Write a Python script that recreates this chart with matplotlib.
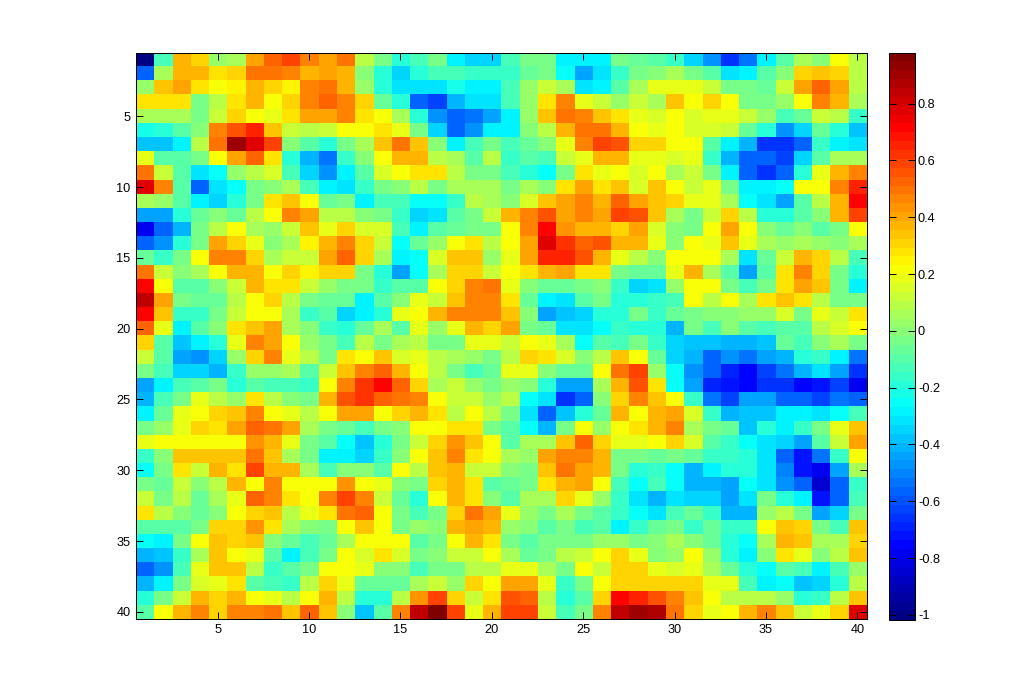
import matplotlib
matplotlib.use("Agg")
import numpy as np
import matplotlib.pyplot as plt
from matplotlib.colors import LinearSegmentedColormap

row01 = [-1.0,-.12,.38,.3,.04,.07,.41,.54,.6,.45,.41,.51,.1,-.02,-.2,-.12,-.05,-.27,-.36,-.36, -.14,-.05,-.02,-.27,-.27,-.27,-.05,-.08,-.11,-.17,-.34,-.48,-.66,-.52,-.27,-.11,.07,.01,.23,.1]
row02 = [-.55,.07,.38,.38,.29,.3,.51,.51,.48,.38,.41,.36,0,-.2,-.34,-.2,-.14,-.14,-.17,-.17, -.17,-.08,-.02,-.24,-.45,-.33,-.17,-.02,.01,.07,-.02,-.11,-.32,-.27,-.11,.01,.3,.35,.3,.1]
row03 = [.04,.35,.4,.27,.2,.25,.38,.32,.25,.48,.51,.38,.04,-.2,-.3,-.32,-.3,-.23,-.29,-.29, -.14,.04,.13,.06,-.3,-.27,-.11,.06,.17,.17,.17,.13,-.05,-.02,-.08,.13,.4,.54,.41,.1]
row04 = [.27,.27,.27,-.02,.1,.27,.36,.23,.3,.48,.54,.48,.3,-.08,-.2,-.55,-.62,-.4,-.33,-.33, -.14,.04,.29,.45,.17,.13,.04,.13,.07,.33,.23,.3,.2,-.02,-.02,.04,.23,.48,.38,.07]
row05 = [.07,.07,.05,-.05,.12,.32,.23,.17,.27,.41,.4,.45,.27,.2,.06,-.2,-.48,-.58,-.52,-.43, -.29,.04,.35,.51,.48,.35,.29,.18,.15,.2,.15,.17,.17,.13,.04,-.14,-.08,.12,.09,-.17]
row06 = [-.22,-.2,-.11,.01,.45,.56,.65,.33,.13,.1,.13,.2,.23,.29,.18,-.05,-.36,-.55,-.48,-.27, -.27,.01,.1,.38,.51,.51,.38,.23,.18,.23,.15,.15,.13,-.08,-.2,-.48,-.34,-.08,-.2,-.38]
row07 = [-.38,-.38,-.27,.1,.51,.9,.77,.59,.01,-.11,-.2,-.05,.07,.33,.51,.33,.01,-.27,-.14,-.02, -.14,-.08,.01,.17,.45,.58,.56,.3,.3,.23,.2,-.11,-.27,-.4,-.66,-.66,-.55,-.17,-.29,-.32]
row08 = [.17,-.11,-.11,-.05,.23,.41,.54,.29,-.2,-.4,-.52,-.17,.01,.23,.36,.36,.1,.07,-.11,.09, -.17,-.11,-.14,.12,.18,.38,.38,.17,.17,.15,.18,-.17,-.42,-.55,-.58,-.62,-.34,-.11,.07,.06]
row09 = [.51,.13,-.11,-.32,-.24,.04,.09,.15,-.14,-.36,-.48,-.27,-.11,.15,.23,.27,.27,.1,-.02,-.05, -.14,-.2,-.24,-.02,.29,.18,.23,.15,.2,.06,.13,-.02,-.27,-.58,-.66,-.55,-.2,.17,.38,.46]
row10 = [.77,.45,-.11,-.58,-.33,-.24,-.05,.01,.06,-.14,-.27,-.32,-.17,-.05,.01,.09,-.05,.07,.07,.07, -.05,.06,.01,.29,.4,.27,.33,.15,.33,.2,.12,.17,-.05,-.27,-.27,-.24,.2,.23,.48,.66]
row11 = [.07,.04,-.11,-.27,-.36,-.2,-.05,.29,.33,.2,-.08,-.05,-.27,-.14,-.14,-.24,-.24,-.17,.09,.06, .01,.15,.33,.41,.46,.36,.54,.4,.35,.3,.18,.18,.07,-.24,-.33,-.43,-.11,.1,.38,.7]
row12 = [-.45,-.43,-.2,-.08,.01,-.08,.1,.23,.45,.41,.1,.1,.01,-.05,-.17,-.36,-.33,-.11,-.05,.13, .36,.46,.56,.41,.48,.4,.59,.56,.33,.06,-.02,.13,.3,.1,-.2,-.2,-.11,.01,.36,.59]
row13 = [-.77,-.58,-.42,-.05,.1,.2,.07,.04,.13,.33,.17,.32,.15,.15,-.14,-.27,-.11,-.08,-.02,-.02, .23,.46,.73,.43,.36,.36,.3,.41,.15,.01,-.02,.2,.41,.2,.01,-.08,.01,-.11,-.02,.23]
row14 = [-.55,-.48,-.2,-.02,.41,.3,.17,.01,.06,.25,.36,.48,.3,.13,-.24,-.08,.04,.23,.27,.1, .2,.41,.79,.62,.52,.56,.38,.38,.18,.01,.2,.18,.35,.18,.07,.04,.07,.04,.01,.07]
row15 = [-.08,-.17,-.02,.2,.46,.46,.3,.06,.13,.13,.4,.54,.32,.06,-.27,-.24,.15,.33,.33,.04, .18,.41,.66,.66,.56,.36,.18,.1,.01,.2,.23,.2,.06,-.3,-.08,.13,.36,.3,.1,-.14]
row16 = [.51,.13,.01,.06,.23,.36,.38,.23,.3,.25,.3,.3,-.05,-.2,-.43,-.24,.07,.32,.3,.13, .23,.29,.36,.41,.29,.29,-.05,-.08,-.08,.17,.36,.06,-.11,-.45,-.11,.27,.48,.32,-.05,-.2]
row17 = [.7,.23,-.11,-.11,.01,.13,.36,.29,.29,.13,.04,-.02,-.05,-.17,-.11,-.11,.2,.3,.48,.51, .17,.01,-.08,-.08,-.05,.01,-.17,-.36,-.33,.04,.2,.23,-.05,-.14,-.02,.27,.41,.35,-.02,-.27]
row18 = [.83,.41,-.02,-.08,-.08,.1,.2,.32,.1,-.02,-.08,-.08,-.27,-.11,.01,.17,.13,.33,.48,.48, .27,-.08,-.27,-.33,-.11,-.05,-.2,-.2,-.17,-.14,.2,.1,.2,.07,.29,.35,.29,.1,-.02,-.05]
row19 = [.7,.33,-.17,-.17,-.05,.13,.2,.23,.07,-.17,-.11,-.34,-.27,-.2,.18,.2,.36,.45,.48,.48, .35,.01,-.45,-.38,-.36,-.2,-.2,-.05,-.17,-.08,-.02,.01,.01,.04,.04,.15,-.02,.18,.13,.29]
row20 = [.54,.17,-.27,-.11,.01,.29,.33,.41,.07,.01,-.17,-.2,-.08,.06,-.11,.17,.04,.17,.36,.32, .4,-.02,-.08,-.3,-.3,-.24,-.17,-.2,-.2,-.42,-.05,-.14,.01,-.11,-.14,-.11,-.11,.1,.15,.2]
row21 = [.32,-.11,-.38,-.27,-.2,.17,.46,.41,.2,.04,-.02,-.14,.1,-.02,.07,.1,-.02,-.02,.17,.17, .13,.23,.17,.07,-.24,-.11,-.14,-.05,-.17,-.34,-.38,-.38,-.42,-.42,-.38,-.08,-.14,.01,.06,-.05]
row22 = [.12,-.11,-.43,-.48,-.36,.04,.32,.45,.18,.1,-.02,.27,.2,.33,.15,.17,.09,.06,.04,-.05, .1,.3,.27,.15,.01,.1,.33,.2,-.08,-.36,-.4,-.58,-.47,-.52,-.45,-.4,-.2,-.17,-.27,-.52]
row23 = [-.02,-.14,-.36,-.36,-.4,-.17,.04,.04,.07,-.11,.13,.35,.48,.54,.38,.23,.1,-.05,-.14,-.08, .17,.17,.01,-.08,-.08,.2,.51,.58,.04,-.24,-.48,-.58,-.68,-.74,-.62,-.52,-.4,-.32,-.43,-.66]
row24 = [-.43,-.27,-.14,-.11,-.05,-.2,-.11,-.14,-.14,-.17,.2,.45,.63,.7,.52,.3,.07,.13,.04,-.05, .04,.01,-.2,-.43,-.43,.06,.36,.56,.29,-.24,-.45,-.68,-.71,-.74,-.66,-.66,-.74,-.71,-.62,-.77]
row25 = [-.4,-.14,-.02,.18,.1,.04,.29,.1,.01,-.02,.36,.56,.63,.52,.51,.46,.23,.13,.13,.04, .1,-.24,-.33,-.66,-.58,.01,.3,.45,.35,.2,-.17,-.52,-.62,-.45,-.45,-.58,-.58,-.62,-.52,-.55]
row26 = [-.27,-.08,.18,.23,.32,.35,.48,.23,.18,.1,.2,.4,.4,.23,.3,.36,.29,.1,.2,.1, -.05,-.3,-.55,-.38,-.2,-.08,.36,.23,.38,.41,.15,-.17,-.42,-.38,-.38,-.29,-.27,-.33,-.24,-.14]
row27 = [-.02,.04,.17,.3,.29,.41,.52,.5,.41,.07,-.05,-.08,-.14,-.02,.01,.23,.2,.29,.29,-.02, -.11,-.24,-.4,-.02,.23,.04,.23,.29,.38,.48,.07,-.05,-.08,-.38,-.2,-.29,-.17,-.05,.18,.35]
row28 = [.18,.23,.23,.2,.23,.2,.43,.36,.17,-.05,-.11,-.24,-.38,-.2,-.02,.13,.32,.43,.33,.2, -.11,.07,.07,.35,.54,.32,.18,.18,.23,.3,.15,-.11,-.17,-.24,-.3,-.36,-.43,-.11,.13,.41]
row29 = [-.17,.01,.33,.35,.33,.35,.51,.35,.07,-.05,-.29,-.29,-.36,-.17,.01,.23,.33,.46,.29,.23, .07,.04,.41,.46,.46,.36,-.02,-.02,-.08,-.05,-.08,-.17,-.17,-.2,-.33,-.58,-.71,-.52,-.17,.23]
row30 = [-.24,-.05,.29,.13,.36,.29,.58,.38,.38,.06,-.14,.01,.01,-.11,.2,.1,.33,.36,.13,.13, .01,-.02,.33,.51,.41,.38,-.02,-.2,-.17,-.24,-.42,-.29,-.2,-.2,-.33,-.5,-.71,-.77,-.43,.07]
row31 = [-.02,-.08,.13,.01,.1,.38,.23,.46,.23,.2,.23,.43,.23,.17,.01,-.05,.32,.36,.29,-.11, -.08,-.05,.29,.38,.41,.23,-.14,-.24,-.14,-.24,-.42,-.42,-.45,-.24,-.3,-.48,-.55,-.85,-.58,-.17]
row32 = [.12,-.02,.1,-.08,.06,.17,.52,.48,.29,.23,.48,.58,.46,.13,-.08,-.2,.2,.38,.27,.01, -.11,.07,.07,.32,.18,.04,-.17,-.3,-.4,-.33,-.36,-.36,-.45,-.33,-.05,-.2,-.29,-.71,-.55,-.14]
row33 = [.29,.1,.01,-.08,.01,.23,.32,.35,.1,.17,.29,.51,.54,.23,-.05,-.14,-.02,.3,.5,.41, .18,.04,-.05,.07,-.05,-.11,-.17,-.24,-.33,-.14,-.08,-.17,-.42,-.42,.04,.1,-.02,-.43,-.34,-.05]
row34 = [-.11,-.11,-.11,-.02,.3,.3,.43,.29,.07,.01,-.05,.23,.33,.2,-.02,.04,.01,.38,.41,.38, .04,.01,-.11,-.05,-.14,-.11,-.27,-.17,-.08,-.05,-.17,-.08,-.17,-.17,.23,.35,.3,-.02,-.14,.35]
row35 = [-.24,-.27,-.05,.2,.33,.3,.33,.01,-.08,-.14,-.08,.07,.2,.2,.23,-.11,-.05,.2,.36,.29, -.02,-.11,-.05,-.02,-.02,.04,.04,-.02,.01,.06,.01,-.08,-.2,-.24,.06,.38,.35,.06,.06,.32]
row36 = [-.42,-.38,-.17,.07,.33,.2,.18,-.11,-.29,-.14,-.02,.2,.15,.29,.15,-.05,.01,.13,.13,.2, .07,-.08,-.02,.1,.13,.2,.32,.17,.01,.04,.23,.04,-.2,-.29,.01,.27,.18,.01,.09,.35]
row37 = [-.55,-.47,-.14,.17,.35,.35,.1,-.17,-.11,-.02,.23,.2,.17,.01,.01,-.14,-.05,-.05,.1,.1, .17,.18,.07,-.05,.2,.13,.32,.32,.18,.15,.18,.07,-.08,-.2,-.24,-.11,-.14,-.29,-.14,.04]
row38 = [-.42,-.29,-.05,.15,.18,.27,-.11,-.14,-.17,.1,.3,.18,-.08,-.08,-.08,.07,.13,.04,.3,.23, .41,.41,.18,-.17,-.05,.2,.32,.32,.32,.3,.3,.17,.17,-.14,-.27,-.24,-.38,-.34,-.2,.1]
row39 = [-.2,-.05,.13,.38,.3,.38,.23,.17,.1,.23,.38,.1,-.2,-.2,.09,.43,.58,.3,.13,.29, .56,.52,.1,-.2,-.11,.3,.73,.66,.56,.45,.35,.23,.1,.1,.1,.04,-.2,-.17,.09,.35]
row40 = [-.11,.2,.38,.46,.3,.46,.46,.51,.33,.54,.35,.01,-.38,-.11,.46,.83,.98,.58,.18,.36, .6,.58,.13,-.14,-.05,.45,.83,.9,.86,.51,.32,.17,.2,.36,.48,.35,.13,.17,.32,.77]

rows = [row01, row02, row03, row04, row05, row06, row07, row08, row09, row10,
        row11, row12, row13, row14, row15, row16, row17, row18, row19, row20,
        row21, row22, row23, row24, row25, row26, row27, row28, row29, row30,
        row31, row32, row33, row34, row35, row36, row37, row38, row39, row40]
axis_ticks = [5, 10, 15, 20, 25, 30, 35, 40]
cbar_ticks = [-1, -0.8, -0.6, -0.4, -0.2, 0, 0.2, 0.4, 0.6, 0.8]
cbar_labels = ["-1", "-0.8", "-0.6", "-0.4", "-0.2", "0", "0.2", "0.4", "0.6", "0.8"]
vmin, vmax = -1.018, 0.98

plt.rcParams['font.family'] = ['Liberation Sans', 'DejaVu Sans']

# matlab style jet with 64 steps
jet64 = LinearSegmentedColormap.from_list("jet64", [
    (0, (0, 0, 0.5156)), (0.125, (0, 0, 1)), (0.375, (0, 1, 1)),
    (0.625, (1, 1, 0)), (0.875, (1, 0, 0)), (1, (0.5, 0, 0))], N=64)

W, H = 1035, 696
fig = plt.figure(figsize=(W / 100, H / 100), dpi=100)
ax = fig.add_axes([135.5 / W, 1 - 619 / H, 731 / W, 566.5 / H])
cax = fig.add_axes([888.5 / W, 1 - 620 / H, 26 / W, 567.5 / H])

matrix = np.array(rows)
im = ax.imshow(matrix, cmap=jet64, vmin=vmin, vmax=vmax, aspect="auto",
               interpolation="nearest", extent=(0.5, 40.5, 40.5, 0.5))
ax.set_xticks(axis_ticks)
ax.set_yticks(axis_ticks)
ax.tick_params(direction="in", length=5.2, width=0.72, top=True, right=True,
               labelsize=9.2, pad=3.5)

cb = fig.colorbar(im, cax=cax)
cb.set_ticks(cbar_ticks)
cb.set_ticklabels(cbar_labels)
cax.tick_params(direction="in", length=5.2, width=0.72, left=True, right=True,
                labelsize=9.2, pad=2.5)
cb.outline.set_linewidth(0.72)
for side in ax.spines.values():
    side.set_linewidth(0.72)

fig.savefig("out.png", dpi=100)
